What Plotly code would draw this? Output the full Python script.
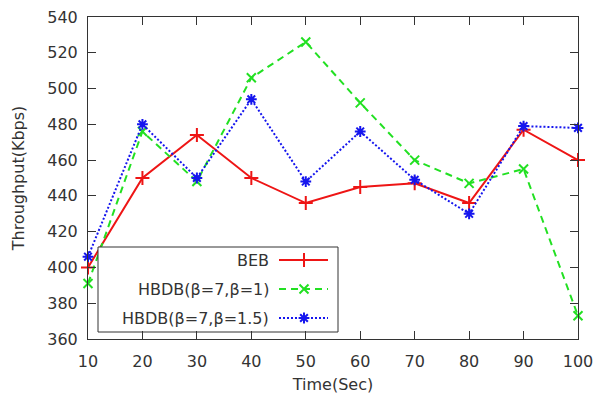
import plotly.graph_objects as go

time_sec = [10, 20, 30, 40, 50, 60, 70, 80, 90, 100]
beb = [400, 450, 474, 450, 436, 445, 447, 436, 477, 460]
hbdb_1 = [391, 476, 448, 506, 526, 492, 460, 447, 455, 373]
hbdb_15 = [406, 480, 450, 494, 448, 476, 449, 430, 479, 478]
series_names = ["BEB", "HBDB(β=7,β=1)", "HBDB(β=7,β=1.5)"]
x_ticks = [10, 20, 30, 40, 50, 60, 70, 80, 90, 100]
y_ticks = [360, 380, 400, 420, 440, 460, 480, 500, 520, 540]

RED, GREEN, BLUE = "#ee1515", "#22e022", "#1515ee"
styles = [
    dict(color=RED, dash="solid", symbol="cross-thin-open", msize=10),
    dict(color=GREEN, dash="7px,5px", symbol="x-thin-open", msize=9),
    dict(color=BLUE, dash="2px,2px", symbol="asterisk-open", msize=9),
]
font = "DejaVu Sans"
TXT = "#333333"
FS = 16

fig = go.Figure()
for ys, name, st in zip([beb, hbdb_1, hbdb_15], series_names, styles):
    fig.add_trace(go.Scatter(
        x=time_sec, y=ys, name=name, mode="lines+markers",
        line=dict(color=st["color"], width=2, dash=st["dash"]),
        marker=dict(symbol=st["symbol"], size=st["msize"], color=st["color"],
                    line=dict(color=st["color"], width=2)),
        showlegend=False, cliponaxis=False,
    ))

# manual gnuplot-style legend (text right-aligned, sample on the right)
W, H = 596, 399
ml, mr, mt, mb = 88, 18, 17, 60
pw, ph = W - ml - mr, H - mt - mb

def px(xp):
    return (xp - ml) / pw

def py(yp):
    return 1 - (yp - mt) / ph

box_x0, box_x1 = 98, 338
box_y0, box_y1 = 247, 332
fig.add_trace(go.Scatter(
    x=[px(box_x0), px(box_x1), px(box_x1), px(box_x0), px(box_x0)],
    y=[py(box_y0), py(box_y0), py(box_y1), py(box_y1), py(box_y0)],
    xaxis="x2", yaxis="y2", mode="lines", fill="toself", fillcolor="white",
    line=dict(color="#333333", width=1), showlegend=False, hoverinfo="skip"))

annotations = []
row_y = [260, 289, 318]
for name, st, ry in zip(series_names, styles, row_y):
    annotations.append(dict(x=px(271), y=py(ry), xref="paper", yref="paper",
                            text=name, showarrow=False, xanchor="right", yanchor="middle",
                            font=dict(family=font, size=FS, color=TXT)))
    fig.add_trace(go.Scatter(
        x=[px(279), px(304), px(328)], y=[py(ry)] * 3, xaxis="x2", yaxis="y2",
        mode="lines", line=dict(color=st["color"], width=2, dash=st["dash"]),
        showlegend=False, hoverinfo="skip"))
    fig.add_trace(go.Scatter(
        x=[px(304)], y=[py(ry)], xaxis="x2", yaxis="y2", mode="markers",
        marker=dict(symbol=st["symbol"], size=st["msize"], color=st["color"],
                    line=dict(color=st["color"], width=2)),
        showlegend=False, hoverinfo="skip"))

axis_common = dict(showline=True, linecolor="#333333", linewidth=1, mirror="ticks",
                   ticks="inside", ticklen=8, tickcolor="#333333", showgrid=False,
                   zeroline=False, automargin=False,
                   tickfont=dict(family=font, size=FS, color=TXT))

fig.update_layout(
    width=W, height=H, margin=dict(l=ml, r=mr, t=mt, b=mb),
    paper_bgcolor="white", plot_bgcolor="white",
    xaxis=dict(range=[10, 100], tickvals=x_ticks, ticklabelstandoff=8,
               title=dict(text="Time(Sec)", font=dict(family=font, size=FS, color=TXT), standoff=8),
               **axis_common),
    yaxis=dict(range=[360, 540], tickvals=y_ticks, ticklabelstandoff=6,
               title=dict(text="Throughput(Kbps)", font=dict(family=font, size=FS, color=TXT), standoff=18),
               **axis_common),
    xaxis2=dict(overlaying="x", range=[0, 1], visible=False, fixedrange=True),
    yaxis2=dict(overlaying="y", range=[0, 1], visible=False, fixedrange=True),
    annotations=annotations,
)

fig.write_html("out.html")
